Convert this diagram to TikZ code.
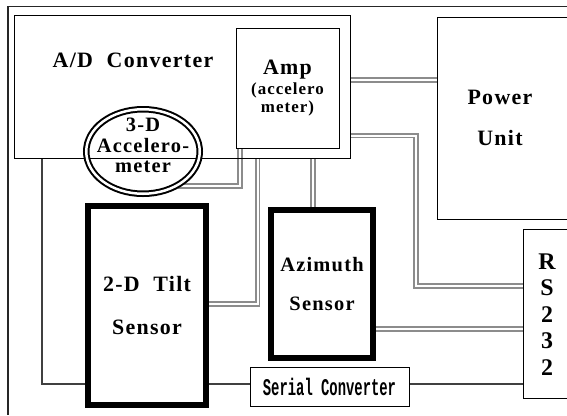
\documentclass[tikz,border=0pt]{standalone}
\usepackage{fontspec}
\setmainfont{Liberation Serif}
\newfontfamily\spacedfont[LetterSpace=6]{Liberation Serif}
\newfontfamily\narrowmono[FakeStretch=0.58]{Liberation Mono}
\usetikzlibrary{shapes.geometric, positioning, backgrounds}

\begin{document}
\begin{tikzpicture}[
    x=1bp, y=-1bp,
    thinbox/.style={rectangle, draw=black, line width=1bp, inner sep=0pt},
    sensorbox/.style={rectangle, draw=black, line width=6bp, inner sep=0pt, align=center,
        font=\spacedfont\bfseries\fontsize{22}{43}\selectfont},
    title/.style={align=center, inner sep=0pt, font=\spacedfont\bfseries\fontsize{22}{41}\selectfont},
    link/.style={draw=black!45, line width=1.7bp, double=white, double distance=2bp},
    wire/.style={draw=black!75, line width=1.5bp}
]
    \useasboundingbox (0,0) rectangle (567,415);

    % Frame
    \draw[line width=1.5bp, black!85] (567,6.5) -| (8,415);

    % Boxes
    \node[thinbox, minimum width=335bp, minimum height=143bp] (adc) at (182.5,86.5) {};
    \node[title] (adctext) at (133,60) {A/D~~Converter};

    \node[thinbox, minimum width=103bp, minimum height=120bp, align=center,
        font=\spacedfont\bfseries\fontsize{17}{17.5}\selectfont] (amp) at (287.5,88)
        {{\fontsize{22}{24}\selectfont Amp}\\[3bp](accelero\\meter)};

    \node[thinbox, minimum width=140bp, minimum height=202bp] (power) at (507,118) {};
    \node[title] (powertext) at (500,117.5) {Power\\Unit};

    \node[thinbox, minimum width=60bp, minimum height=169bp] (rs) at (553,313.5) {};
    \node[align=center, inner sep=0pt, font=\bfseries\fontsize{24}{26.5}\selectfont]
        (rstext) at (547,314.5) {R\\S\\2\\3\\2};

    \node[ellipse, draw=black, line width=2bp, double, double distance=2.5bp,
        minimum width=113.5bp, minimum height=84.5bp, inner sep=0pt] (acc) at (143,151.5) {};
    \node[title, font=\spacedfont\bfseries\fontsize{20.5}{20.5}\selectfont]
        (acctext) at (143,145.5) {3-D\\Accelero-\\meter};

    \node[sensorbox, minimum width=118bp, minimum height=199bp] (tilt) at (147,305.5) {2-D~~Tilt\\Sensor};
    \node[sensorbox, minimum width=102bp, minimum height=148bp,
        font=\spacedfont\bfseries\fontsize{20.5}{40}\selectfont] (azi) at (322,284) {Azimuth\\Sensor};

    \node[thinbox, minimum width=159bp, minimum height=39bp,
        font=\narrowmono\bfseries\fontsize{24}{24}\selectfont] (serial) at (329.5,386.5) {Serial Converter};

    % Links
    \begin{scope}[on background layer]
        \coordinate (tiltbend) at (257.5,304);
        \coordinate (rsbend) at (416,286);
        \coordinate (busleft) at (42,384);

        \draw[link] (acc.-45) -| ([xshift=4.5bp]amp.south west);
        \draw[link] (tilt.east |- tiltbend) -- (tiltbend) -- (tiltbend |- adc.south);
        \draw[link] ([xshift=-9bp]azi.north) -- ([xshift=-9bp]azi.north |- adc.south);
        \draw[link] ([yshift=6.5bp]adc.east) -- ([yshift=6.5bp]adc.east -| power.west);
        \draw[link] ([yshift=-49bp]adc.east) -| (rsbend) -- (rsbend -| rs.west);
        \draw[link] ([yshift=-45bp]azi.east) -- ([yshift=-45bp]azi.east -| rs.west);

        % Serial bus
        \draw[wire] (busleft |- adc.south) -- (busleft) -- (busleft -| tilt.west);
        \draw[wire] (tilt.east |- busleft) -- (busleft -| serial.west);
        \draw[wire] (serial.east |- busleft) -- (busleft -| rs.west);
    \end{scope}
\end{tikzpicture}
\end{document}
